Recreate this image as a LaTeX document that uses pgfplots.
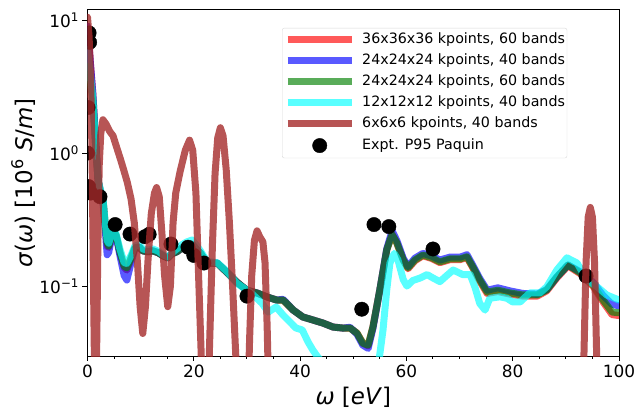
\documentclass[border=0pt]{standalone}
\usepackage{fontspec}
\setmainfont{DejaVu Sans}
\usepackage{pgfplots}
\pgfplotsset{compat=1.18}
\definecolor{mpred}{RGB}{255,0,0}
\definecolor{mpblue}{RGB}{0,0,255}
\definecolor{mpgreen}{RGB}{0,128,0}
\definecolor{mpcyan}{RGB}{0,255,255}
\definecolor{mpbrown}{RGB}{165,42,42}
\begin{document}
\begin{tikzpicture}
\useasboundingbox (-87.5bp,-54bp) rectangle (548.5bp,356bp);
\begin{axis}[
  scale only axis, width=531.5bp, height=346bp,
  xmin=0, xmax=100, ymin=0.0298, ymax=11.9, ymode=log,
  xtick={0,20,40,60,80,100}, minor x tick num=3,
  ytick={0.1,1,10}, yticklabels={10\textsuperscript{−1},10\textsuperscript{0},10\textsuperscript{1}},
  yminorticks=false,
  tick align=outside, xtick pos=bottom, ytick pos=left,
  major tick length=5bp, minor tick length=3bp,
  every tick/.style={black, line width=1bp},
  axis line style={black, line width=1bp},
  ticklabel style={font=\fontsize{17}{20}\selectfont},
  /pgf/number format/assume math mode=true,
  xlabel={\textit{ω} [\textit{eV}]},
  ylabel={\textit{σ}(\textit{ω}) [10\textsuperscript{6} \textit{S}/\textit{m}]},
  xlabel style={font=\fontsize{23}{27}\selectfont, at={(axis description cs:0.5,-0.118)}, anchor=center},
  ylabel style={font=\fontsize{23}{27}\selectfont, at={(axis description cs:-0.121,0.5)}, anchor=center},
  clip marker paths=true,
  legend cell align=left,
  legend style={at={(rel axis cs:0.366,0.948)}, anchor=north west,
    draw=black!15, rounded corners=2bp, fill=white, fill opacity=0.8, text opacity=1,
    font=\fontsize{14.3}{17}\selectfont, inner xsep=2bp, inner ysep=5bp,
    row sep=7.5bp, column sep=7bp,
    nodes={inner sep=0pt, text height=10.5bp, text depth=3bp}},
  legend image code/.code={\draw[#1, line cap=butt] (0bp,0bp) -- (64bp,0bp);},
  every axis plot/.append style={line join=round, line cap=round},
]
% 36x36x36, 60 bands
\addplot[mpred, opacity=0.65, line width=7bp] coordinates {
(0,9) (0.5,5) (1.0,2.8) (1.5,1.3) (2.0,0.62) (2.5,0.5) (2.9,0.45) (3.3,0.30) (3.7,0.20)
(4.0,0.195) (4.8,0.262) (5.4,0.238) (6.1,0.178) (6.9,0.138) (7.4,0.132) (8.2,0.16) (8.9,0.193)
(9.7,0.197) (10.4,0.184) (11.4,0.181) (12.3,0.184) (13.3,0.178) (14.2,0.169) (15.1,0.163)
(15.9,0.175) (16.8,0.181) (17.8,0.194) (18.7,0.204) (19.7,0.207) (20.6,0.187) (21.2,0.178)
(22.5,0.149) (24.4,0.149) (26.3,0.126) (28.1,0.107) (30.0,0.093) (31.9,0.0887) (33.8,0.0828)
(35.6,0.0785) (36.8,0.0785) (38.7,0.066) (40.5,0.0586) (42.4,0.0556) (44.3,0.0527) (46.2,0.0492)
(48.1,0.0483) (49.4,0.0483) (50.7,0.0443) (51.8,0.0372) (52.8,0.0355) (53.7,0.0492) (55.0,0.0935)
(56.3,0.187) (57.3,0.245) (58.2,0.211) (59.4,0.157) (60.3,0.135) (61.6,0.155) (63.1,0.169)
(64.8,0.161) (66.3,0.15) (68.2,0.158) (70.1,0.158) (71.4,0.164) (72.5,0.137) (73.8,0.109)
(75.2,0.088) (77.2,0.091) (79.5,0.087) (81.9,0.084) (84.6,0.084) (86.4,0.092) (88.3,0.115)
(90.4,0.142) (92.7,0.124) (95.1,0.1) (97.0,0.076) (98.7,0.061) (100,0.06)};
\addlegendentry{36x36x36 kpoints, 60 bands}
% 24x24x24, 40 bands
\addplot[mpblue, opacity=0.65, line width=7bp] coordinates {
(0,9) (0.5,5) (1.0,2.8) (1.5,1.3) (2.0,0.62) (2.5,0.5) (2.9,0.44) (3.3,0.28) (3.7,0.172)
(4.0,0.18) (4.8,0.262) (5.4,0.236) (6.1,0.17) (6.9,0.12) (7.4,0.111) (8.2,0.15) (8.9,0.19)
(9.7,0.197) (10.4,0.184) (11.4,0.181) (12.3,0.184) (13.3,0.178) (14.2,0.169) (15.1,0.163)
(15.9,0.175) (16.8,0.181) (17.8,0.194) (18.7,0.204) (19.7,0.207) (20.6,0.187) (21.2,0.178)
(22.5,0.149) (24.4,0.149) (26.3,0.126) (28.1,0.107) (30.0,0.093) (31.9,0.0887) (33.8,0.0828)
(35.6,0.0785) (36.8,0.0795) (38.7,0.066) (40.5,0.0586) (42.4,0.0556) (44.3,0.0527) (46.2,0.0492)
(48.1,0.0483) (49.4,0.049) (50.7,0.0435) (51.8,0.036) (52.8,0.034) (53.7,0.048) (55.0,0.0935)
(56.3,0.19) (57.3,0.26) (58.2,0.22) (59.4,0.162) (60.3,0.14) (61.6,0.162) (63.1,0.176)
(64.8,0.168) (66.3,0.157) (68.2,0.165) (70.1,0.165) (71.4,0.172) (72.5,0.143) (73.8,0.114)
(75.2,0.093) (77.2,0.097) (79.5,0.092) (81.9,0.088) (84.6,0.087) (86.4,0.094) (88.3,0.117)
(90.4,0.144) (92.7,0.128) (95.1,0.107) (97.0,0.085) (98.7,0.073) (100,0.071)};
\addlegendentry{24x24x24 kpoints, 40 bands}
% 24x24x24, 60 bands
\addplot[mpgreen, opacity=0.65, line width=7bp] coordinates {
(0,4.5) (0.5,3.5) (1.0,2.5) (1.5,1.2) (2.0,0.62) (2.5,0.5) (2.9,0.45) (3.3,0.30) (3.7,0.21)
(4.0,0.2) (4.8,0.264) (5.4,0.24) (6.1,0.18) (6.9,0.141) (7.4,0.137) (8.2,0.163) (8.9,0.194)
(9.7,0.197) (10.4,0.184) (11.4,0.181) (12.3,0.184) (13.3,0.178) (14.2,0.169) (15.1,0.163)
(15.9,0.175) (16.8,0.181) (17.8,0.194) (18.7,0.204) (19.7,0.207) (20.6,0.187) (21.2,0.178)
(22.5,0.149) (24.4,0.149) (26.3,0.126) (28.1,0.107) (30.0,0.093) (31.9,0.0887) (33.8,0.0828)
(35.6,0.0785) (36.8,0.0785) (38.7,0.066) (40.5,0.0586) (42.4,0.0556) (44.3,0.0527) (46.2,0.0492)
(48.1,0.0483) (49.4,0.0483) (50.7,0.0443) (51.8,0.0372) (52.8,0.036) (53.7,0.0492) (55.0,0.0935)
(56.3,0.187) (57.3,0.243) (58.2,0.211) (59.4,0.157) (60.3,0.137) (61.6,0.157) (63.1,0.171)
(64.8,0.163) (66.3,0.152) (68.2,0.16) (70.1,0.16) (71.4,0.166) (72.5,0.139) (73.8,0.111)
(75.2,0.090) (77.2,0.093) (79.5,0.0887) (81.9,0.0857) (84.6,0.0857) (86.4,0.0935) (88.3,0.117)
(90.4,0.144) (92.7,0.126) (95.1,0.102) (97.0,0.0785) (98.7,0.0638) (100,0.063)};
\addlegendentry{24x24x24 kpoints, 60 bands}
% 12x12x12, 40 bands
\addplot[mpcyan, opacity=0.65, line width=7bp] coordinates {
(0,6) (0.5,4) (1.0,2.6) (1.5,1.2) (2.0,0.62) (2.5,0.52) (2.9,0.46) (3.3,0.31) (3.7,0.22)
(4.0,0.21) (4.8,0.27) (5.4,0.245) (6.1,0.19) (6.9,0.15) (7.4,0.148) (8.2,0.17) (8.9,0.2)
(9.7,0.205) (10.4,0.19) (11.4,0.186) (12.3,0.19) (13.3,0.183) (14.2,0.172) (15.1,0.165)
(15.9,0.178) (16.8,0.19) (17.8,0.205) (18.7,0.215) (19.7,0.222) (20.6,0.2) (21.2,0.185)
(22.5,0.153) (24.4,0.15) (26.3,0.128) (28.1,0.105) (30.0,0.093) (30.6,0.09) (32.8,0.0745)
(34.0,0.0638) (35.5,0.0696) (36.8,0.0605) (38.1,0.0537) (39.2,0.0484) (40.4,0.0468) (41.5,0.038)
(42.4,0.033) (43.4,0.029) (44.2,0.027) (45.0,0.02) (47,0.01) (50,0.005) (53,0.005) (54.3,0.015)
(54.7,0.025) (55.6,0.0468) (56.3,0.0935) (56.9,0.149) (57.7,0.176) (58.4,0.158) (59.4,0.112)
(60.1,0.1) (61.2,0.11) (62.6,0.115) (63.9,0.122) (65.0,0.115) (66.3,0.108) (67.6,0.12)
(68.8,0.132) (70.6,0.122) (72.0,0.122) (72.9,0.098) (73.8,0.074) (74.8,0.066) (75.7,0.081)
(77.6,0.083) (78.9,0.081) (80.0,0.076) (81.4,0.076) (83.2,0.0887) (85.1,0.0887) (86.4,0.0986)
(88.3,0.132) (90.2,0.163) (92.1,0.149) (93.9,0.112) (95.9,0.0986) (97.7,0.0857) (100,0.0785)};
\addlegendentry{12x12x12 kpoints, 40 bands}
% experimental points
\addplot[only marks, mark=*, mark size=7.2bp, black, forget plot] coordinates {
(0.3,8.0) (0.4,6.8) (0.1,2.2) (0.0,1.0) (0.2,0.56) (0.6,0.5) (2.35,0.47)
(5.2,0.29) (8.0,0.246) (10.8,0.235) (11.6,0.245) (15.7,0.207) (18.9,0.196)
(20.0,0.17) (21.9,0.149) (30.0,0.084) (51.6,0.067) (53.9,0.29) (56.7,0.28)
(65.0,0.19) (93.8,0.119)};
% 6x6x6, 40 bands
\addplot[mpbrown, opacity=0.8, line width=7bp] coordinates {
(0,10.5) (0.3,7.5) (0.6,3.5) (0.85,1.0) (1.05,0.2) (1.25,0.04) (1.5,0.008) (1.75,0.04)
(1.95,0.2) (2.2,0.8) (2.5,1.4) (2.9,1.78) (3.5,1.65) (4.2,1.45) (4.8,1.35) (5.5,1.1)
(6.2,0.9) (6.8,0.75) (7.5,0.6) (8.2,0.45) (8.8,0.3) (9.4,0.15) (9.9,0.07) (10.4,0.044)
(10.9,0.07) (11.4,0.16) (12.0,0.35) (12.6,0.5) (13.0,0.55) (13.5,0.47) (14.0,0.25)
(14.5,0.12) (15.1,0.07) (15.6,0.1) (16.1,0.3) (16.6,0.5) (17.4,0.72) (18.4,1.05)
(19.2,1.25) (19.8,1.05) (20.4,0.5) (20.9,0.12) (21.4,0.03) (21.9,0.008) (22.5,0.008)
(23.0,0.04) (23.5,0.2) (24.0,0.7) (24.5,1.3) (25.0,1.55) (25.5,1.35) (26.1,0.75)
(26.7,0.3) (27.3,0.1) (27.9,0.03) (28.4,0.008) (29.5,0.003) (30.1,0.01) (30.5,0.04)
(30.9,0.12) (31.4,0.22) (31.9,0.26) (32.4,0.235) (33.0,0.215) (33.4,0.15) (33.8,0.05)
(34.2,0.01) (35,0.002) (40,0.001) (92,0.001) (93.0,0.005) (93.4,0.03) (93.8,0.15)
(94.2,0.33) (94.6,0.39) (95.0,0.33) (95.4,0.15) (95.8,0.03) (96.2,0.005) (97,0.001) (100,0.001)};
\addlegendentry{6x6x6 kpoints, 40 bands}
\addlegendimage{legend image code/.code={\fill[black, fill opacity=1] (32bp,0bp) circle (7.2bp);}}
\addlegendentry{Expt. P95 Paquin}
\end{axis}
\end{tikzpicture}
\end{document}
